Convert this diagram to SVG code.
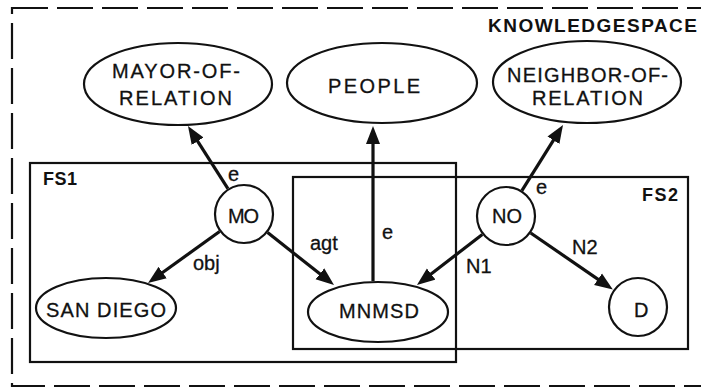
<svg xmlns="http://www.w3.org/2000/svg" width="701" height="390" viewBox="0 0 701 390">
<style>
.bg{fill:#fff}
.outer{fill:none;stroke:#111;stroke-width:2.2;stroke-dasharray:36 9}
.box{fill:none;stroke:#111;stroke-width:2.2}
.node{fill:#fff;stroke:#111;stroke-width:2.2}
.t{font-family:"Liberation Sans",Arial,sans-serif;font-size:20px;fill:#111;stroke:#111;stroke-width:0.3}
.b{font-family:"Liberation Sans",Arial,sans-serif;font-size:18px;font-weight:bold;fill:#111}
.k{font-size:19px}
.edge{stroke:#111;stroke-width:3.2;fill:none;marker-end:url(#ah)}
</style>
<defs>
<marker id="ah" markerUnits="userSpaceOnUse" markerWidth="19" markerHeight="15" refX="12" refY="7" orient="auto" viewBox="0 0 19 14">
<path d="M0,0 L18,7 L0,14 z" fill="#111"/>
</marker>
</defs>
<rect class="bg" x="0" y="0" width="701" height="390"/>
<rect class="outer" x="12" y="8" width="705" height="378"/>
<text class="b k" x="488" y="32" textLength="209">KNOWLEDGESPACE</text>
<g id="FS1">
<rect class="box" x="30" y="163" width="426" height="199"/>
<text class="b" x="43" y="185" textLength="34">FS1</text>
</g>
<g id="FS2">
<rect class="box" x="293" y="177" width="395" height="172"/>
<text class="b" x="642" y="201" textLength="36">FS2</text>
</g>
<g id="connectors">
<line class="edge" x1="227.9" y1="188.7" x2="191.2" y2="131.1"/>
<line class="edge" x1="373" y1="281" x2="373" y2="132"/>
<line class="edge" x1="521.9" y1="190.6" x2="559.8" y2="130.1"/>
<line class="edge" x1="219.6" y1="231.5" x2="152.9" y2="279.5"/>
<line class="edge" x1="267.6" y1="232.6" x2="329.3" y2="281.3"/>
<line class="edge" x1="482.3" y1="234.4" x2="421.7" y2="281.3"/>
<line class="edge" x1="530.7" y1="233" x2="607.9" y2="286.1"/>
<text class="t" x="228" y="181">e</text>
<text class="t" x="193" y="270">obj</text>
<text class="t" x="310" y="250">agt</text>
<text class="t" x="382" y="239">e</text>
<text class="t" x="536" y="194">e</text>
<text class="t" x="466" y="273">N1</text>
<text class="t" x="572" y="254">N2</text>
</g>
<g id="mayor-of-relation">
<ellipse class="node" cx="178" cy="84" rx="94" ry="41"/>
<text class="t" x="112" y="78" textLength="128">MAYOR-OF-</text>
<text class="t" x="119" y="105" textLength="113">RELATION</text>
</g>
<g id="people">
<ellipse class="node" cx="382" cy="83" rx="95" ry="40"/>
<text class="t" x="328" y="93" textLength="92">PEOPLE</text>
</g>
<g id="neighbor-of-relation">
<ellipse class="node" cx="587" cy="82" rx="94" ry="41"/>
<text class="t" x="507" y="82" textLength="161">NEIGHBOR-OF-</text>
<text class="t" x="532" y="105" textLength="111">RELATION</text>
</g>
<g id="MO">
<circle class="node" cx="244" cy="214" r="29"/>
<text class="t" x="228" y="223" textLength="31">MO</text>
</g>
<g id="NO">
<circle class="node" cx="506" cy="216" r="29"/>
<text class="t" x="492" y="223" textLength="30">NO</text>
</g>
<g id="san-diego">
<ellipse class="node" cx="106" cy="308" rx="70" ry="30"/>
<text class="t" x="46" y="317" textLength="120">SAN DIEGO</text>
</g>
<g id="MNMSD">
<ellipse class="node" cx="378" cy="312" rx="70" ry="30"/>
<text class="t" x="339" y="318" textLength="80">MNMSD</text>
</g>
<g id="D">
<circle class="node" cx="638" cy="307" r="29"/>
<text class="t" x="634" y="317">D</text>
</g>
</svg>
